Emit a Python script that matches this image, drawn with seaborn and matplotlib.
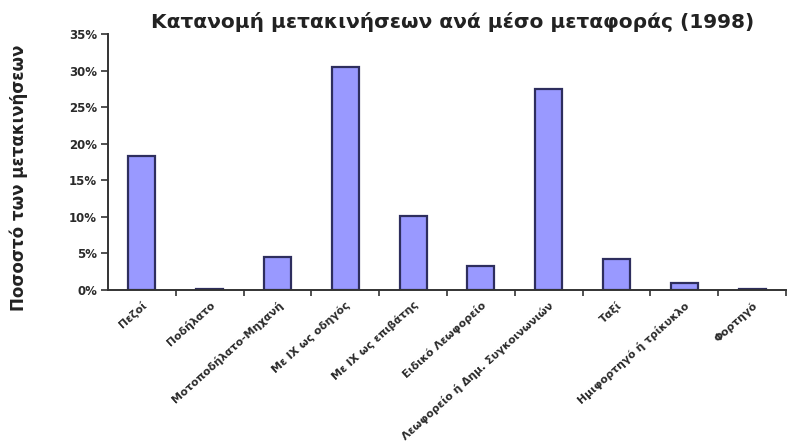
import matplotlib
matplotlib.use("Agg")
import matplotlib.pyplot as plt
from matplotlib.ticker import PercentFormatter, FixedLocator
import seaborn as sns
import pandas as pd

categories = [
    "Πεζοί",
    "Ποδήλατο",
    "Μοτοποδήλατο-Μηχανή",
    "Με ΙΧ ως οδηγός",
    "Με ΙΧ ως επιβάτης",
    "Ειδικό Λεωφορείο",
    "Λεωφορείο ή Δημ. Συγκοινωνιών",
    "Ταξί",
    "Ημιφορτηγό ή τρίκυκλο",
    "Φορτηγό",
]
shares = [18.3, 0.2, 4.5, 30.5, 10.1, 3.3, 27.5, 4.2, 1.0, 0.2]
y_ticks = [0, 5, 10, 15, 20, 25, 30, 35]

title = "Κατανομή μετακινήσεων ανά μέσο μεταφοράς (1998)"
y_label = "Ποσοστό των μετακινήσεων"

df = pd.DataFrame({"mode": categories, "share": shares})

sns.set_style("white")
plt.rcParams["font.family"] = ["DejaVu Sans"]

fig = plt.figure(figsize=(7.97, 4.48), dpi=100)
ax = fig.add_axes([108 / 797, 1 - 290 / 448, (786 - 108) / 797, (290 - 34) / 448])

sns.barplot(data=df, x="mode", y="share", ax=ax, width=0.4,
            color="#9999FF", edgecolor="#2E2E5E", linewidth=1.6, saturation=1)

ax.set_ylim(0, 35)
ax.set_xlim(-0.5, len(categories) - 0.5)
ax.yaxis.set_major_locator(FixedLocator(y_ticks))
ax.yaxis.set_major_formatter(PercentFormatter(decimals=0))

for side in ["top", "right"]:
    ax.spines[side].set_visible(False)
for side in ["left", "bottom"]:
    ax.spines[side].set_color("#333333")
    ax.spines[side].set_linewidth(1.4)

# category boundary ticks on the x axis
ax.set_xticks(range(len(categories)))
ax.set_xticklabels(categories, rotation=42, ha="right", rotation_mode="anchor",
                   fontsize=7.8, fontweight="bold", color="#2a2a2a")
ax.xaxis.set_minor_locator(FixedLocator([i + 0.5 for i in range(len(categories))]))
ax.tick_params(axis="x", which="major", length=0, pad=7)
ax.tick_params(axis="x", which="minor", length=4, width=1.2, color="#333333", direction="out", bottom=True)
ax.tick_params(axis="y", length=5, width=1.2, color="#333333", direction="out", left=True,
               labelsize=8.5, labelcolor="#2a2a2a", pad=3)
for lbl in ax.get_yticklabels():
    lbl.set_fontweight("bold")

ax.set_xlabel("")
ax.set_ylabel(y_label, fontsize=12, fontweight="bold", color="#222222")
ax.yaxis.set_label_coords(-0.118, 0.44)

fig.text(0.568, 0.952, title, ha="center", va="center",
         fontsize=14.5, fontweight="bold", color="#222222")

fig.savefig("out.png", dpi=100, facecolor="white")
